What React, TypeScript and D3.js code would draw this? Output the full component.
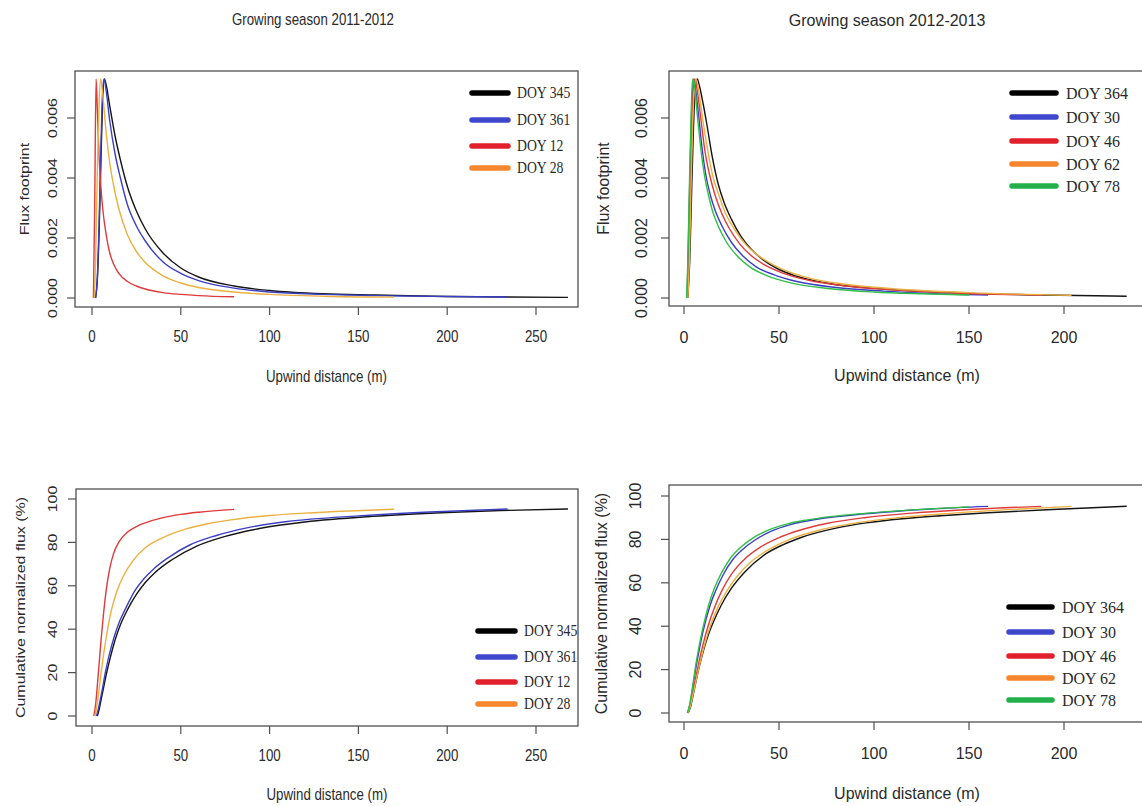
import React from "react";
import * as d3 from "d3";

// ---- Growing season 2011-2012: flux footprint, [upwind distance (m), footprint] ----
const doy345Foot: [number, number][] = [[2, 0], [3, 0.0006], [4, 0.0022], [5, 0.0045], [6, 0.0066], [7, 0.0073], [8, 0.0071], [10, 0.0064], [13, 0.0054], [16, 0.0046], [20, 0.0037], [25, 0.0029], [30, 0.0023], [40, 0.0015], [50, 0.001], [60, 0.0007], [80, 0.0004], [100, 0.00025], [130, 0.00014], [160, 0.0001], [200, 0.00005], [268, 0.00002]];
const doy361Foot: [number, number][] = [[2, 0], [3, 0.0007], [4, 0.0025], [5, 0.005], [6, 0.0069], [6.8, 0.0073], [8, 0.0069], [10, 0.0059], [13, 0.0048], [16, 0.004], [20, 0.0031], [25, 0.0024], [30, 0.0019], [40, 0.0012], [50, 0.00082], [60, 0.00058], [80, 0.00033], [100, 0.0002], [130, 0.00012], [160, 0.00008], [200, 0.00005], [234, 0.00003]];
const doy12Foot: [number, number][] = [[0.8, 0], [1.5, 0.003], [2.3, 0.0073], [3, 0.0063], [4, 0.0047], [5, 0.0037], [6, 0.003], [8, 0.0021], [10, 0.0015], [12, 0.00115], [15, 0.00083], [20, 0.00055], [25, 0.0004], [30, 0.0003], [40, 0.00018], [50, 0.00012], [60, 0.00008], [80, 0.00004]];
const doy28Foot: [number, number][] = [[1.3, 0], [2, 0.0012], [3, 0.0042], [4, 0.0065], [4.9, 0.0073], [6, 0.0068], [8, 0.0055], [10, 0.0045], [12, 0.0038], [15, 0.003], [20, 0.0021], [25, 0.00155], [30, 0.00118], [40, 0.00074], [50, 0.0005], [60, 0.00035], [80, 0.0002], [100, 0.00012], [130, 0.00006], [170, 0.00003]];

// ---- Growing season 2011-2012: cumulative normalized flux (%) ----
const doy345Cum: [number, number][] = [[3, 0], [4, 3], [5, 7], [6, 11], [8, 19], [10, 26], [13, 35], [16, 42], [20, 49], [25, 56], [30, 61.5], [36, 66.5], [45, 72], [59, 78.3], [75, 82.8], [95, 86.5], [120, 89.4], [158, 92], [200, 93.8], [230, 94.7], [268, 95.4]];
const doy361Cum: [number, number][] = [[2.5, 0], [3.5, 3], [4.5, 7], [5.5, 11], [7.5, 20], [9.5, 27.5], [12.5, 36.5], [15.5, 43.5], [19.5, 50.5], [24, 57.5], [29, 63], [35, 68], [43, 73], [55, 78.8], [70, 83.2], [86.5, 86.6], [110, 89.6], [150, 92.2], [190, 94], [234, 95.4]];
const doy12Cum: [number, number][] = [[1, 0], [2, 5], [3, 14], [4, 24], [5, 34], [6, 43], [8, 58], [10, 68], [12, 74.5], [15, 80], [20, 84.8], [25, 87.3], [30, 89], [40, 91.4], [50, 92.9], [60, 93.9], [80, 95.2]];
const doy28Cum: [number, number][] = [[1.7, 0], [3, 6], [5, 19], [7, 31], [9, 41], [11, 49], [14, 57.5], [18, 65], [23, 71.5], [30, 77.5], [40, 82.2], [53, 86.2], [65, 88.6], [82, 90.8], [100, 92.4], [120, 93.5], [145, 94.5], [170, 95.3]];

// ---- Growing season 2012-2013: flux footprint ----
const doy364Foot: [number, number][] = [[2, 0], [3, 0.0012], [4, 0.0035], [5, 0.0057], [6, 0.007], [7, 0.0073], [8, 0.0071], [10, 0.0065], [12, 0.0058], [14.6, 0.0048], [18, 0.0038], [21, 0.0032], [25, 0.00262], [30, 0.00205], [35, 0.00165], [41.5, 0.00128], [50, 0.00095], [58.6, 0.00074], [75, 0.0005], [105, 0.0003], [140, 0.00018], [180, 0.00011], [233, 0.00006]];
const doy30Foot: [number, number][] = [[1.6, 0], [2, 0.001], [3, 0.0038], [4, 0.0062], [5, 0.0073], [6, 0.007], [7.5, 0.0062], [9.5, 0.005], [11.5, 0.0041], [14, 0.0034], [16.5, 0.0029], [20, 0.0024], [25, 0.00185], [31, 0.0014], [38, 0.00104], [47, 0.00078], [60, 0.00054], [80, 0.00035], [105, 0.00023], [130, 0.00015], [160, 0.0001]];
const doy46Foot: [number, number][] = [[1.8, 0], [2.5, 0.0012], [3.5, 0.0042], [4.5, 0.0065], [5.6, 0.0073], [7, 0.0069], [9, 0.0059], [11, 0.0049], [13.5, 0.0041], [16.5, 0.0034], [20, 0.0028], [24, 0.0023], [29, 0.00183], [35, 0.00143], [42, 0.00112], [52, 0.00083], [65, 0.0006], [85, 0.0004], [110, 0.00027], [145, 0.00016], [188, 0.0001]];
const doy62Foot: [number, number][] = [[2, 0], [2.8, 0.0012], [3.8, 0.004], [5, 0.0065], [6.3, 0.0073], [7.5, 0.007], [9.5, 0.0061], [12, 0.0051], [15, 0.0041], [18.5, 0.0034], [22, 0.0028], [27, 0.00225], [33, 0.00175], [41, 0.00133], [51, 0.00098], [65, 0.00068], [85, 0.00046], [110, 0.00031], [150, 0.00018], [204, 0.00009]];
const doy78Foot: [number, number][] = [[1.4, 0], [2, 0.0012], [3, 0.0042], [4, 0.0067], [4.6, 0.0073], [5.5, 0.0071], [7, 0.0061], [9, 0.0049], [11, 0.004], [13, 0.0034], [15, 0.0029], [18, 0.0024], [22, 0.0019], [28, 0.0014], [35, 0.00102], [43, 0.00076], [55, 0.00052], [77, 0.00031], [100, 0.0002], [125, 0.00014], [150, 0.0001]];

// ---- Growing season 2012-2013: cumulative normalized flux (%) ----
const doy364Cum: [number, number][] = [[2.2, 0], [3.5, 3], [5, 9], [7.4, 19], [10, 28], [13, 36.5], [16, 43], [19.8, 50], [25, 57.5], [32, 65], [43, 73.3], [52, 77.5], [62, 81], [80, 85.2], [96, 87.6], [115, 89.5], [135, 90.9], [160, 92.3], [200, 94], [233, 95.3]];
const doy30Cum: [number, number][] = [[1.8, 0], [3, 3.5], [4, 8.5], [5, 14], [6, 19.5], [8, 29], [10, 37.5], [13.5, 49], [16.5, 56], [20.5, 63.5], [25.5, 70.5], [31, 75.5], [37, 79.5], [46, 83.8], [56, 86.8], [70, 89.3], [85, 90.9], [105, 92.5], [130, 94], [160, 95.2]];
const doy46Cum: [number, number][] = [[2, 0], [3, 2.5], [4, 6.5], [5, 11], [6, 15.5], [8, 24], [10, 31.5], [13, 41], [16, 48.5], [20, 56.5], [25, 64], [32, 71], [40, 76.3], [50, 80.8], [60, 84], [75, 87.3], [95, 90], [120, 92.1], [150, 93.8], [188, 95.2]];
const doy62Cum: [number, number][] = [[2, 0], [3, 2], [4, 5.5], [5, 9.5], [6, 13.5], [8, 21.5], [11, 32], [14, 40.5], [18, 49], [22, 55.5], [28, 63], [35, 69.5], [45, 75.5], [55, 79.8], [70, 84], [90, 87.5], [115, 90.2], [140, 92], [170, 93.7], [204, 95.2]];
const doy78Cum: [number, number][] = [[1.8, 0], [3, 4], [4, 9], [5, 15], [6, 21], [8, 31], [10, 39.5], [13.2, 50.5], [16, 57.5], [20, 65], [25, 72], [30, 76.5], [36, 80.5], [45, 84.5], [55, 87.3], [65, 89], [77, 90.5], [95, 92], [120, 93.6], [150, 95]];

// ---- labels and ticks ----
const seasonTitles = ["Growing season 2011-2012", "Growing season 2012-2013"];
const legend2011 = ["DOY 345", "DOY 361", "DOY 12", "DOY 28"];
const legend2012 = ["DOY 364", "DOY 30", "DOY 46", "DOY 62", "DOY 78"];
const xTicks2011 = [0, 50, 100, 150, 200, 250];
const xTicks2012 = [0, 50, 100, 150, 200];
const yTicksFootprint = [0, 0.002, 0.004, 0.006];
const yTicksCumulative = [0, 20, 40, 60, 80, 100];

const lineColors = { black: "#151515", blue: "#3b3fc4", red: "#de3a3a", orange: "#ecb040", green: "#2fbf46" };
const keyColors = { black: "#000000", blue: "#3f48cc", red: "#e2202c", orange: "#f7852e", green: "#23b04a" };

const SANS = "'Liberation Sans', Arial, Helvetica, sans-serif";
const SERIF = "'Liberation Serif', 'Times New Roman', serif";
const INK = "#2a2a2a";

type Series = { name: string; data: [number, number][]; color: keyof typeof lineColors };

type PanelSpec = {
  box: [number, number, number, number];
  xDomain: [number, number];
  xRange: [number, number];
  yDomain: [number, number];
  yRange: [number, number];
  xTicks: number[];
  yTicks: number[];
  yFormat: (v: number) => string;
  yTitle: string;
  sx: number;
  xLabelY: number;
  xTitleY: number;
  yLabelX: number;
  yTitleX: number;
  legend: { x1: number; x2: number; tx: number; ys: number[] };
  series: Series[];
};

const fmtFoot = d3.format(".3f");
const fmtCum = d3.format("d");

const series2011Foot: Series[] = [
  { name: legend2011[0], data: doy345Foot, color: "black" },
  { name: legend2011[1], data: doy361Foot, color: "blue" },
  { name: legend2011[2], data: doy12Foot, color: "red" },
  { name: legend2011[3], data: doy28Foot, color: "orange" },
];
const series2011Cum: Series[] = [
  { name: legend2011[0], data: doy345Cum, color: "black" },
  { name: legend2011[1], data: doy361Cum, color: "blue" },
  { name: legend2011[2], data: doy12Cum, color: "red" },
  { name: legend2011[3], data: doy28Cum, color: "orange" },
];
const series2012Foot: Series[] = [
  { name: legend2012[0], data: doy364Foot, color: "black" },
  { name: legend2012[1], data: doy30Foot, color: "blue" },
  { name: legend2012[2], data: doy46Foot, color: "red" },
  { name: legend2012[3], data: doy62Foot, color: "orange" },
  { name: legend2012[4], data: doy78Foot, color: "green" },
];
const series2012Cum: Series[] = [
  { name: legend2012[0], data: doy364Cum, color: "black" },
  { name: legend2012[1], data: doy30Cum, color: "blue" },
  { name: legend2012[2], data: doy46Cum, color: "red" },
  { name: legend2012[3], data: doy62Cum, color: "orange" },
  { name: legend2012[4], data: doy78Cum, color: "green" },
];

const panels: PanelSpec[] = [
  {
    box: [75, 71, 578, 307], xDomain: [0, 250], xRange: [92, 536], yDomain: [0, 0.006], yRange: [298, 118],
    xTicks: xTicks2011, yTicks: yTicksFootprint, yFormat: fmtFoot, yTitle: "Flux footprint", sx: 0.83,
    xLabelY: 337, xTitleY: 377, yLabelX: 52, yTitleX: 24,
    legend: { x1: 472, x2: 508, tx: 517, ys: [93, 120, 146, 168] }, series: series2011Foot,
  },
  {
    box: [669, 71, 1145, 306], xDomain: [0, 200], xRange: [684, 1064], yDomain: [0, 0.006], yRange: [298, 118],
    xTicks: xTicks2012, yTicks: yTicksFootprint, yFormat: fmtFoot, yTitle: "Flux footprint", sx: 1,
    xLabelY: 337, xTitleY: 375, yLabelX: 641, yTitleX: 603,
    legend: { x1: 1012, x2: 1056, tx: 1066, ys: [93, 117, 141, 164, 186] }, series: series2012Foot,
  },
  {
    box: [76, 489, 578, 726], xDomain: [0, 250], xRange: [92, 536], yDomain: [0, 100], yRange: [716, 499],
    xTicks: xTicks2011, yTicks: yTicksCumulative, yFormat: fmtCum, yTitle: "Cumulative normalized flux (%)", sx: 0.83,
    xLabelY: 756, xTitleY: 795, yLabelX: 52, yTitleX: 20.5,
    legend: { x1: 478, x2: 515, tx: 524, ys: [631, 657, 682, 704] }, series: series2011Cum,
  },
  {
    box: [669, 485, 1145, 722], xDomain: [0, 200], xRange: [684, 1064], yDomain: [0, 100], yRange: [713, 496],
    xTicks: xTicks2012, yTicks: yTicksCumulative, yFormat: fmtCum, yTitle: "Cumulative normalized flux (%)", sx: 1,
    xLabelY: 753, xTitleY: 793, yLabelX: 635, yTitleX: 601.5,
    legend: { x1: 1009, x2: 1052, tx: 1062, ys: [607, 632, 656, 678, 700] }, series: series2012Cum,
  },
];

function Label(props: {
  x: number; y: number; sx: number; text: string; size?: number; family?: string; rotate?: boolean; anchor?: string;
}) {
  const { x, y, sx, text, size = 16, family = SANS, rotate = false, anchor = "middle" } = props;
  const t = `translate(${x},${y}) scale(${sx},1)${rotate ? " rotate(-90)" : ""}`;
  return (
    <text transform={t} textAnchor={anchor} dominantBaseline="central" fontSize={size} fontFamily={family} fill={INK}>
      {text}
    </text>
  );
}

function Panel({ p }: { p: PanelSpec }) {
  const x = d3.scaleLinear().domain(p.xDomain).range(p.xRange);
  const y = d3.scaleLinear().domain(p.yDomain).range(p.yRange);
  const line = d3
    .line<[number, number]>()
    .x((d) => x(d[0]))
    .y((d) => y(d[1]))
    .curve(d3.curveMonotoneX);
  const [bx0, by0, bx1, by1] = p.box;
  const tick = 8;
  return (
    <g>
      {p.series.map((s) => (
        <path key={s.name} d={line(s.data) || ""} fill="none" stroke={lineColors[s.color]} strokeWidth={1.4} strokeLinejoin="round" />
      ))}
      <rect x={bx0} y={by0} width={bx1 - bx0} height={by1 - by0} fill="none" stroke="#505050" strokeWidth={1.3} />
      {p.xTicks.map((t) => (
        <g key={`x${t}`}>
          <line x1={x(t)} x2={x(t)} y1={by1} y2={by1 + tick} stroke="#505050" strokeWidth={1.2} />
          <Label x={x(t)} y={p.xLabelY} sx={p.sx} text={String(t)} />
        </g>
      ))}
      {p.yTicks.map((t) => (
        <g key={`y${t}`}>
          <line x1={bx0 - tick} x2={bx0} y1={y(t)} y2={y(t)} stroke="#505050" strokeWidth={1.2} />
          <Label x={p.yLabelX} y={y(t)} sx={p.sx} text={p.yFormat(t)} rotate />
        </g>
      ))}
      <Label x={(bx0 + bx1) / 2} y={p.xTitleY} sx={p.sx} text="Upwind distance (m)" />
      <Label x={p.yTitleX} y={(by0 + by1) / 2} sx={p.sx} text={p.yTitle} rotate />
      {p.series.map((s, i) => (
        <g key={`k${s.name}`}>
          <line x1={p.legend.x1} x2={p.legend.x2} y1={p.legend.ys[i]} y2={p.legend.ys[i]} stroke={keyColors[s.color]} strokeWidth={5.5} strokeLinecap="round" />
          <Label x={p.legend.tx} y={p.legend.ys[i]} sx={p.sx === 1 ? 1 : 0.86} text={s.name} family={SERIF} anchor="start" />
        </g>
      ))}
    </g>
  );
}

export default function App() {
  return (
    <svg width={1142} height={806} style={{ position: "absolute", left: 0, top: 0, background: "#ffffff" }}>
      <rect x={0} y={0} width={1142} height={806} fill="#ffffff" />
      <Label x={313} y={20} sx={0.83} text={seasonTitles[0]} />
      <Label x={887} y={20} sx={1} text={seasonTitles[1]} />
      {panels.map((p, i) => (
        <Panel key={i} p={p} />
      ))}
    </svg>
  );
}
